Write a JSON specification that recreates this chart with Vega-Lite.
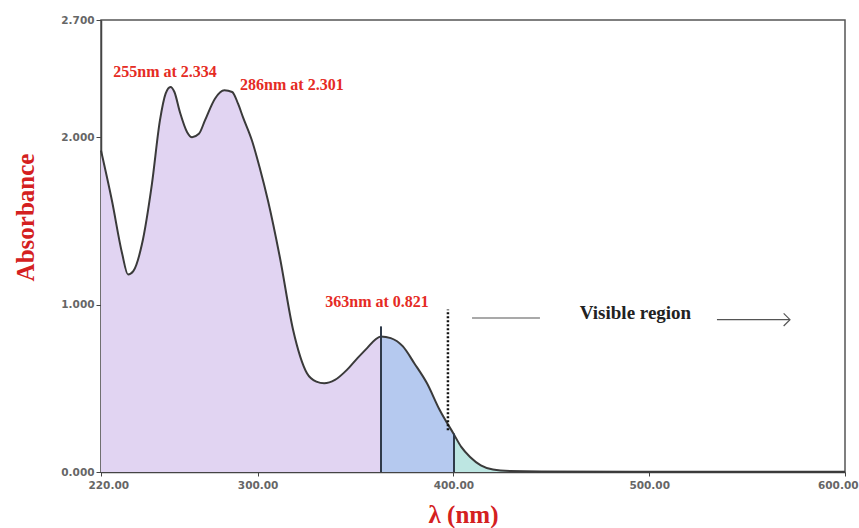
{
  "$schema": "https://vega.github.io/schema/vega-lite/v6.json",
  "width": 744,
  "height": 452,
  "autosize": "none",
  "padding": {"left": 101, "top": 20, "right": 14, "bottom": 56},
  "background": "white",
  "config": {
    "view": {"stroke": "#555555", "strokeWidth": 1.5},
    "axis": {"grid": false, "domainColor": "#444444", "domainWidth": 1.5, "tickColor": "#444444", "labelColor": "#666666", "labelFont": "DejaVu Sans", "labelFontSize": 10.5, "labelFontWeight": "bold", "titleFont": "Liberation Serif", "titleColor": "#d42020", "titleFontWeight": "bold", "titleFontSize": 25}
  },
  "datasets": {
    "spectrum": [
      {"nm": 220, "A": 1.92},
      {"nm": 225.6, "A": 1.62},
      {"nm": 230.7, "A": 1.31},
      {"nm": 233.8, "A": 1.18},
      {"nm": 236.5, "A": 1.2},
      {"nm": 240.9, "A": 1.36},
      {"nm": 246, "A": 1.72},
      {"nm": 250.1, "A": 2.1},
      {"nm": 253, "A": 2.26},
      {"nm": 255.5, "A": 2.3},
      {"nm": 257.5, "A": 2.27},
      {"nm": 260.3, "A": 2.15},
      {"nm": 264, "A": 2.03},
      {"nm": 266.5, "A": 2.0},
      {"nm": 270, "A": 2.02},
      {"nm": 273.1, "A": 2.1},
      {"nm": 278.2, "A": 2.23},
      {"nm": 283, "A": 2.28},
      {"nm": 287, "A": 2.27},
      {"nm": 290, "A": 2.2},
      {"nm": 292.5, "A": 2.12},
      {"nm": 297.1, "A": 1.98},
      {"nm": 301, "A": 1.82},
      {"nm": 305.3, "A": 1.62},
      {"nm": 311.4, "A": 1.28},
      {"nm": 318.1, "A": 0.85},
      {"nm": 325.2, "A": 0.59},
      {"nm": 330, "A": 0.54},
      {"nm": 334, "A": 0.53},
      {"nm": 339.5, "A": 0.55},
      {"nm": 345.6, "A": 0.61},
      {"nm": 351, "A": 0.68},
      {"nm": 355.9, "A": 0.74},
      {"nm": 360, "A": 0.79},
      {"nm": 363, "A": 0.81},
      {"nm": 368, "A": 0.8},
      {"nm": 374.2, "A": 0.75},
      {"nm": 380, "A": 0.65},
      {"nm": 386.5, "A": 0.53},
      {"nm": 393, "A": 0.37},
      {"nm": 400, "A": 0.23},
      {"nm": 404, "A": 0.15},
      {"nm": 408.5, "A": 0.09},
      {"nm": 414, "A": 0.04},
      {"nm": 420.2, "A": 0.015},
      {"nm": 429, "A": 0.006},
      {"nm": 445, "A": 0.003},
      {"nm": 500, "A": 0.002},
      {"nm": 600, "A": 0.002}
    ]
  },
  "layer": [
    {
      "data": {"name": "spectrum"},
      "transform": [{"filter": "datum.nm <= 363"}],
      "mark": {"type": "area", "color": "#e1d4f2", "interpolate": "monotone"},
      "encoding": {
        "x": {"field": "nm", "type": "quantitative", "scale": {"domain": [220, 600], "nice": false, "zero": false},
          "axis": {"values": [220, 300, 400, 500, 600], "format": ".2f", "title": "λ (nm)", "titlePadding": 12, "titleX": 362, "labelPadding": 4, "tickSize": 4, "labelFlush": true, "labelFlushOffset": 13}},
        "y": {"field": "A", "type": "quantitative", "scale": {"domain": [0, 2.7], "nice": false},
          "axis": {"values": [0, 1, 2, 2.7], "format": ".3f", "title": "Absorbance", "titlePadding": 22, "titleY": 197, "labelPadding": 2, "tickSize": 5}}
      }
    },
    {
      "data": {"name": "spectrum"},
      "transform": [{"filter": "datum.nm >= 363 && datum.nm <= 400"}],
      "mark": {"type": "area", "color": "#b5c9ef", "interpolate": "monotone"},
      "encoding": {
        "x": {"field": "nm", "type": "quantitative"},
        "y": {"field": "A", "type": "quantitative"}
      }
    },
    {
      "data": {"name": "spectrum"},
      "transform": [{"filter": "datum.nm >= 400 && datum.nm <= 445"}],
      "mark": {"type": "area", "color": "#bde6e2", "interpolate": "monotone"},
      "encoding": {
        "x": {"field": "nm", "type": "quantitative"},
        "y": {"field": "A", "type": "quantitative"}
      }
    },
    {
      "data": {"name": "spectrum"},
      "mark": {"type": "line", "color": "#3a3a3a", "strokeWidth": 2, "interpolate": "monotone"},
      "encoding": {
        "x": {"field": "nm", "type": "quantitative"},
        "y": {"field": "A", "type": "quantitative"}
      }
    },
    {
      "data": {"values": [{}]},
      "mark": {"type": "rule", "color": "#2f3a4a", "strokeWidth": 2},
      "encoding": {"x": {"datum": 363, "type": "quantitative"}, "y": {"datum": 0, "type": "quantitative"}, "y2": {"datum": 0.87}}
    },
    {
      "data": {"values": [{}]},
      "mark": {"type": "rule", "color": "#2f3a4a", "strokeWidth": 2},
      "encoding": {"x": {"datum": 400.3, "type": "quantitative"}, "y": {"datum": 0, "type": "quantitative"}, "y2": {"datum": 0.23}}
    },
    {
      "data": {"values": [{}]},
      "mark": {"type": "rule", "color": "#111111", "strokeWidth": 2.5, "strokeDash": [2, 2]},
      "encoding": {"x": {"datum": 397.2, "type": "quantitative"}, "y": {"datum": 0.25, "type": "quantitative"}, "y2": {"datum": 0.97}}
    },
    {
      "data": {"values": [{}]},
      "mark": {"type": "rule", "color": "#555555", "strokeWidth": 1.2},
      "encoding": {"x": {"datum": 409.5, "type": "quantitative"}, "x2": {"datum": 444.2}, "y": {"datum": 0.92, "type": "quantitative"}}
    },
    {
      "data": {"values": [{}]},
      "mark": {"type": "rule", "color": "#555555", "strokeWidth": 1.2},
      "encoding": {"x": {"datum": 534.6, "type": "quantitative"}, "x2": {"datum": 571.9}, "y": {"datum": 0.91, "type": "quantitative"}}
    },
    {
      "data": {"values": [{}]},
      "mark": {"type": "point", "shape": "M-1,-1L0,0L-1,1", "filled": false, "color": "#555555", "strokeWidth": 1.2, "size": 160, "opacity": 1},
      "encoding": {"x": {"datum": 571.9, "type": "quantitative"}, "y": {"datum": 0.91, "type": "quantitative"}}
    },
    {
      "data": {"values": [{"nm": 252.7, "A": 2.39, "label": "255nm at 2.334"}, {"nm": 317.5, "A": 2.31, "label": "286nm at 2.301"}, {"nm": 361, "A": 1.015, "label": "363nm at 0.821"}]},
      "mark": {"type": "text", "font": "Liberation Serif", "fontWeight": "bold", "fontSize": 16, "color": "#e52b24", "align": "center", "baseline": "middle"},
      "encoding": {"x": {"field": "nm", "type": "quantitative"}, "y": {"field": "A", "type": "quantitative"}, "text": {"field": "label"}}
    },
    {
      "data": {"values": [{"nm": 493, "A": 0.95, "label": "Visible region"}]},
      "mark": {"type": "text", "font": "Liberation Serif", "fontWeight": "bold", "fontSize": 19, "color": "#222222", "align": "center", "baseline": "middle"},
      "encoding": {"x": {"field": "nm", "type": "quantitative"}, "y": {"field": "A", "type": "quantitative"}, "text": {"field": "label"}}
    }
  ]
}
